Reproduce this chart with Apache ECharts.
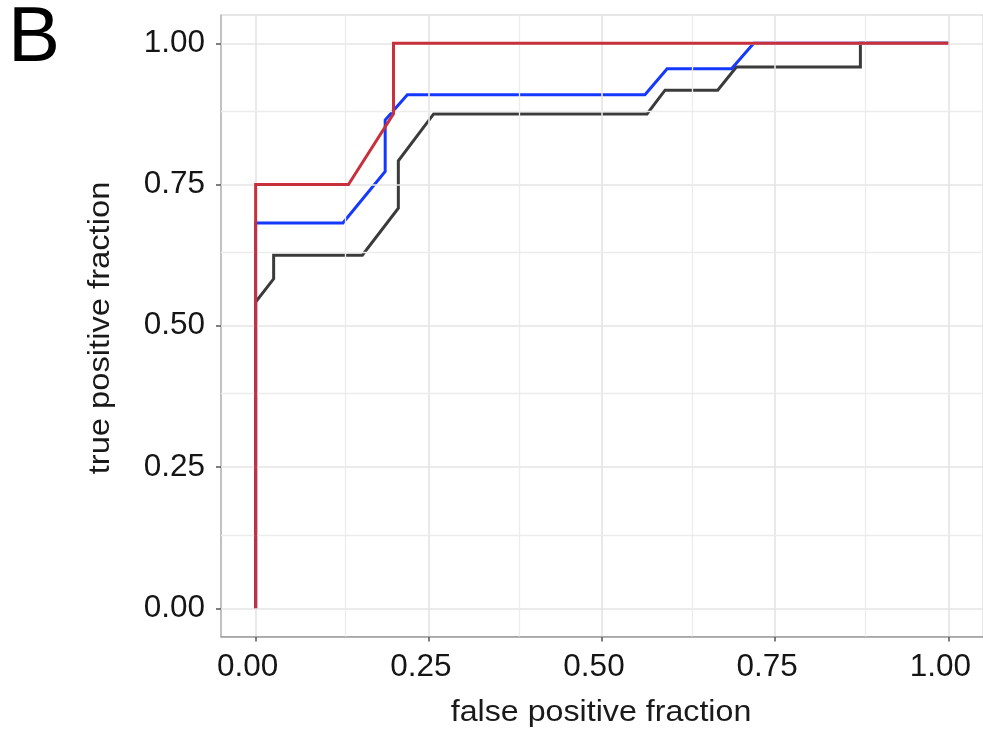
<!DOCTYPE html>
<html>
<head>
<meta charset="utf-8">
<script src="https://cdn.jsdelivr.net/npm/echarts@6/dist/echarts.min.js"></script>
<style>
html,body{margin:0;padding:0;background:#fff;}
#chart{width:983px;height:734px;}
</style>
</head>
<body>
<div id="chart"></div>
<script>
// ROC curves: false positive fraction (x) vs true positive fraction (y)
const blackFPR = [0, 0, 0.026, 0.026, 0.154, 0.206, 0.206, 0.257, 0.565, 0.591, 0.667, 0.694, 0.873, 0.873, 1];
const blackTPR = [0, 0.542, 0.583, 0.625, 0.625, 0.708, 0.792, 0.875, 0.875, 0.917, 0.917, 0.958, 0.958, 1, 1];

const blueFPR = [0, 0, 0.126, 0.187, 0.187, 0.219, 0.562, 0.594, 0.687, 0.719, 1];
const blueTPR = [0, 0.682, 0.682, 0.773, 0.864, 0.909, 0.909, 0.955, 0.955, 1, 1];

const redFPR = [0, 0, 0.134, 0.199, 0.199, 1];
const redTPR = [0, 0.75, 0.75, 0.875, 1, 1];

const majorTicks = [0, 0.25, 0.5, 0.75, 1];
const minorTicks = [0.125, 0.375, 0.625, 0.875];
const tickLabels = ['0.00', '0.25', '0.50', '0.75', '1.00'];

const panelLetter = 'B';
const xTitle = 'false positive fraction';
const yTitle = 'true positive fraction';

function pairs(xs, ys) { return xs.map((x, i) => [x, ys[i]]); }
function labelFor(v) { const i = majorTicks.indexOf(v); return i >= 0 ? tickLabels[i] : ''; }

const FONT = "'Liberation Sans', Arial, Helvetica, sans-serif";

const gridLines = [];
majorTicks.forEach(v => {
  gridLines.push({ xAxis: v, lineStyle: { color: '#e4e4e4', width: 1.6, type: 'solid' } });
  gridLines.push({ yAxis: v, lineStyle: { color: '#e4e4e4', width: 1.6, type: 'solid' } });
});
minorTicks.forEach(v => {
  gridLines.push({ xAxis: v, lineStyle: { color: '#ececec', width: 1.3, type: 'solid' } });
  gridLines.push({ yAxis: v, lineStyle: { color: '#ececec', width: 1.3, type: 'solid' } });
});

const chart = echarts.init(document.getElementById('chart'), null, { renderer: 'canvas' });
chart.setOption({
  animation: false,
  backgroundColor: '#ffffff',
  grid: {
    left: 221, top: 15, right: 0, bottom: 97.5,
    show: true, borderColor: '#cfcfcf', borderWidth: 1, backgroundColor: 'transparent'
  },
  xAxis: {
    type: 'value', min: -0.05, max: 1.05,
    splitLine: { show: false },
    axisLine: { onZero: false, lineStyle: { color: '#9a9a9a', width: 1.5 } },
    axisTick: { show: true, length: 5, customValues: majorTicks, lineStyle: { color: '#555', width: 1.5 } },
    axisLabel: {
      customValues: majorTicks, formatter: labelFor,
      fontSize: 31.5, fontFamily: FONT, color: '#151515', margin: 15,
      padding: [0, 16, 0, 0]
    }
  },
  yAxis: {
    type: 'value', min: -0.05, max: 1.05,
    splitLine: { show: false },
    axisLine: { onZero: false, lineStyle: { color: '#b5b5b5', width: 1.5 } },
    axisTick: { show: true, length: 5, customValues: majorTicks, lineStyle: { color: '#555', width: 1.5 } },
    axisLabel: {
      customValues: majorTicks, formatter: labelFor,
      fontSize: 31.5, fontFamily: FONT, color: '#151515', margin: 16
    }
  },
  graphic: [
    { type: 'text', left: 8, top: 0, style: { text: panelLetter, font: '78px ' + FONT, fill: '#000' }, z: 10 },
    { type: 'text', x: 601, y: 713, scaleX: 1.11, style: { text: xTitle, font: '29px ' + FONT, fill: '#1a1a1a', align: 'center', verticalAlign: 'middle' }, z: 10 },
    { type: 'text', x: 101, y: 328, rotation: Math.PI / 2, scaleX: 1.09, style: { text: yTitle, font: '30px ' + FONT, fill: '#1a1a1a', align: 'center', verticalAlign: 'middle' }, z: 10 }
  ],
  series: [
    {
      type: 'line', data: [], silent: true, z: 1,
      markLine: { silent: true, symbol: 'none', label: { show: false }, animation: false, data: gridLines }
    },
    {
      name: 'black', type: 'line', data: pairs(blackFPR, blackTPR), showSymbol: false, z: 3,
      lineStyle: { color: '#3b3b3b', width: 3, join: 'miter' }
    },
    {
      name: 'blue', type: 'line', data: pairs(blueFPR, blueTPR), showSymbol: false, z: 4,
      lineStyle: { color: '#1538ff', width: 3, join: 'miter' }
    },
    {
      name: 'red', type: 'line', data: pairs(redFPR, redTPR), showSymbol: false, z: 5,
      lineStyle: { color: '#c8303b', width: 3, join: 'miter' }
    }
  ]
});
</script>
</body>
</html>
